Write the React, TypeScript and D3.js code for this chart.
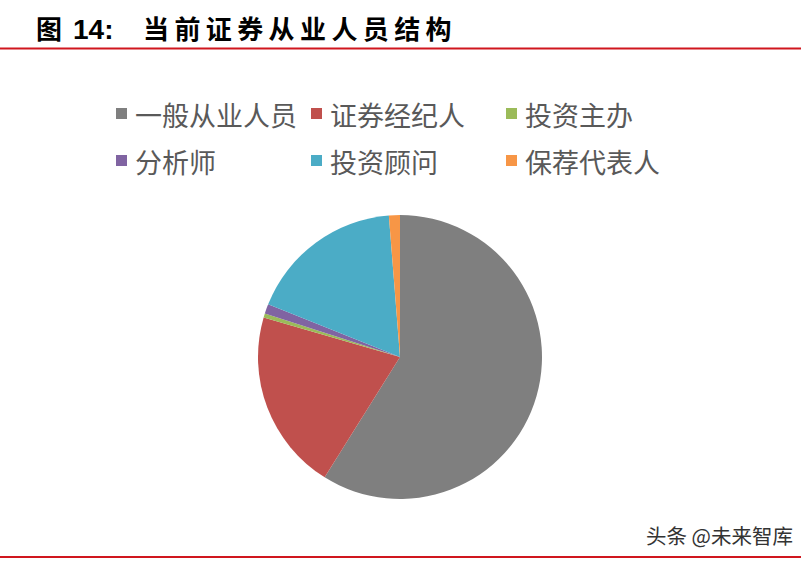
import React from "react";
import * as d3 from "d3";

const categories = ["一般从业人员", "证券经纪人", "投资主办", "分析师", "投资顾问", "保荐代表人"];
const shares = [58.9, 20.6, 0.45, 1.1, 17.7, 1.25];
const colors = ["#7F7F7F", "#C0504D", "#9BBB59", "#8064A2", "#4BACC6", "#F79646"];
const titleLabel = "图";
const titleNumber = "14:";
const titleText = "当前证券从业人员结构";
const watermark = "头条 @未来智库";

const W = 808;
const H = 561;

export default function App() {
  const cx = 400;
  const cy = 357;
  const r = 142;
  const pie = d3
    .pie<number>()
    .sort(null)
    .value((d) => d)
    .startAngle(0)
    .endAngle(2 * Math.PI);
  const arcs = pie(shares);
  const arcGen = d3.arc<d3.PieArcDatum<number>>().innerRadius(0).outerRadius(r);

  const legendX = [116, 311, 506];
  const legendY = [114, 161];
  const cjk = "'Noto Sans CJK SC', 'Noto Sans', sans-serif";

  return (
    <svg
      width={W}
      height={H}
      style={{ position: "absolute", left: 0, top: 0, background: "#fff" }}
    >
      <rect x={0} y={0} width={W} height={H} fill="#fff" />
      {/* title */}
      <text x={36} y={39} fontFamily={cjk} fontWeight={700} fontSize={26} fill="#000">
        {titleLabel}
      </text>
      <text x={73} y={39} fontFamily="'Liberation Sans', Arial, sans-serif" fontWeight={700} fontSize={28} fill="#000">
        {titleNumber}
      </text>
      <text x={143} y={39} fontFamily={cjk} fontWeight={700} fontSize={26} letterSpacing={5.4} fill="#000">
        {titleText}
      </text>
      <line x1={0} x2={801} y1={48.5} y2={48.5} stroke="#D0161E" strokeWidth={2} />

      {/* legend */}
      {categories.map((c, i) => {
        const col = i % 3;
        const row = Math.floor(i / 3);
        const x = legendX[col];
        const y = legendY[row];
        return (
          <g key={c}>
            <rect x={x} y={y - 6} width={11} height={11} fill={colors[i]} />
            <text
              x={x + 19}
              y={y}
              dominantBaseline="central"
              fontFamily={cjk}
              fontSize={27}
              fill="#595959"
            >
              {c}
            </text>
          </g>
        );
      })}

      {/* pie */}
      <g transform={`translate(${cx},${cy})`}>
        {arcs.map((a, i) => (
          <path key={i} d={arcGen(a) || ""} fill={colors[i]} />
        ))}
      </g>

      {/* footer */}
      <text
        x={793}
        y={535}
        textAnchor="end"
        dominantBaseline="central"
        fontFamily={cjk}
        fontSize={20.5}
        fill="#333"
      >
        {watermark}
      </text>
      <line x1={0} x2={801} y1={557} y2={557} stroke="#D0161E" strokeWidth={2} />
    </svg>
  );
}
